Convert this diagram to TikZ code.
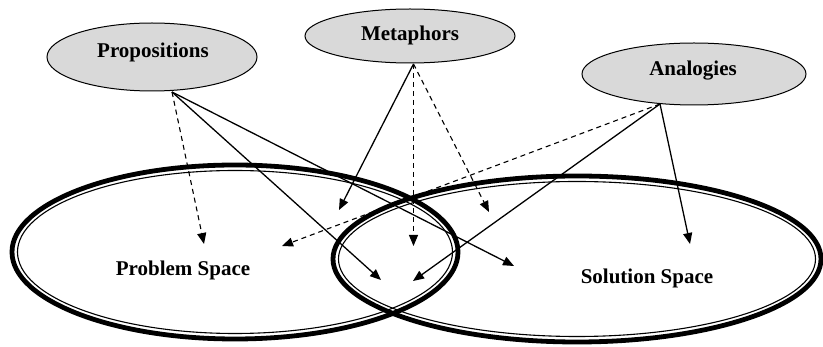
\documentclass[tikz,border=0pt]{standalone}
\usepackage{fontspec}
\setmainfont{Liberation Serif}
\usetikzlibrary{shapes.geometric,arrows.meta}
\definecolor{bubble}{HTML}{D9D9D9}
\tikzset{
  concept/.style={ellipse, draw=black, line width=1pt, fill=bubble, inner sep=0pt},
  spacering/.style={ellipse, draw=black, line width=4.8pt, inner sep=0pt},
  innerring/.style={draw=black, line width=1.1pt},
  lbl/.style={font=\fontsize{21}{24}\selectfont\bfseries, inner sep=0pt},
  solidarr/.style={line width=1.3pt, -{Triangle[length=11pt,width=9pt]}},
  dasharr/.style={line width=1.1pt, dash pattern=on 5pt off 4pt, -{Triangle[length=11pt,width=9pt]}},
}
\begin{document}
\begin{tikzpicture}[x=1pt,y=-1pt]
\useasboundingbox (0,0) rectangle (823,347);
% big spaces
\node[spacering, minimum width=446pt, minimum height=174pt] (ps) at (235,252) {};
\draw[innerring] (ps.center) ellipse [x radius=217.5pt, y radius=81.5pt];
\node[spacering, minimum width=488pt, minimum height=166pt] (ss) at (577,259) {};
\draw[innerring] (ss.center) ellipse [x radius=238.5pt, y radius=77.5pt];
\node[lbl] (pst) at (183,270) {Problem Space};
\node[lbl] (sst) at (647,278) {Solution Space};
% concepts
\node[concept, minimum width=210pt, minimum height=68pt] (prop) at (152,57) {};
\node[lbl] (propt) at (153,52) {Propositions};
\node[concept, minimum width=210pt, minimum height=54pt] (meta) at (410,36) {};
\node[lbl] (metat) at (410,35) {Metaphors};
\node[concept, minimum width=224pt, minimum height=62pt] (ana) at (694,74) {};
\node[lbl] (anat) at (693,71) {Analogies};
% start points
\coordinate (p0) at (172,92);
\coordinate (m0) at (413.5,64);
\coordinate (a0) at (660,104);
% targets
\coordinate (pt1) at (204,244);
\coordinate (pt2) at (381,280);
\coordinate (pt3) at (514,266);
\coordinate (mt1) at (339,210);
\coordinate (mt2) at (413.5,246);
\coordinate (mt3) at (489,212);
\coordinate (at1) at (282,246);
\coordinate (at2) at (413,281);
\coordinate (at3) at (690,244);
% connectors
\draw[dasharr] (p0) -- (pt1);
\draw[solidarr] (p0) -- (pt2);
\draw[solidarr] (p0) -- (pt3);
\draw[solidarr] (m0) -- (mt1);
\draw[dasharr] (m0) -- (mt2);
\draw[dasharr] (m0) -- (mt3);
\draw[dasharr] (a0) -- (at1);
\draw[solidarr] (a0) -- (at2);
\draw[solidarr] (a0) -- (at3);
\end{tikzpicture}
\end{document}
